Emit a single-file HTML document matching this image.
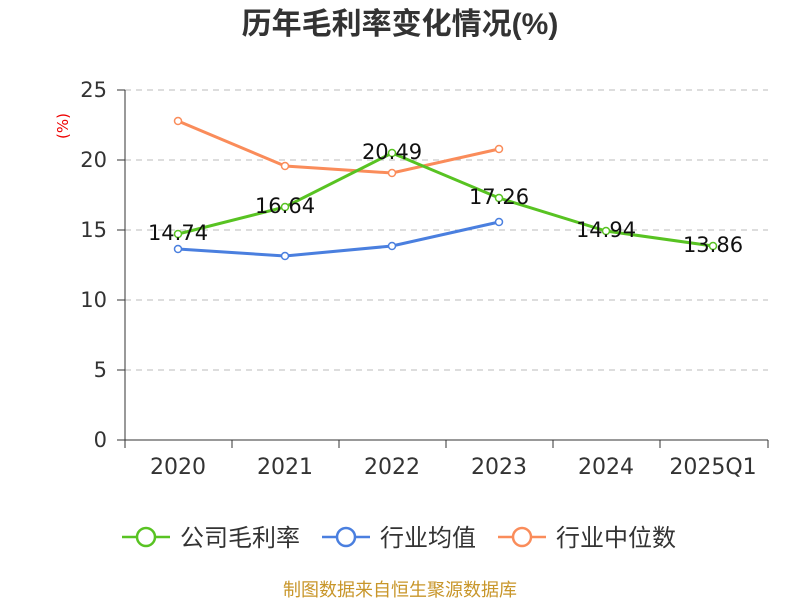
<!DOCTYPE html>
<html><head><meta charset="utf-8"><style>
body{margin:0;background:#fff;}
svg text{font-family:"DejaVu Sans","Noto Sans CJK SC",sans-serif;}
</style></head><body>
<svg width="800" height="600" xmlns="http://www.w3.org/2000/svg">
<rect width="800" height="600" fill="#fff"/>
<text x="400" y="34" text-anchor="middle" font-size="30" font-weight="bold" fill="#333" style="font-family:'Liberation Sans','Noto Sans CJK SC',sans-serif">历年毛利率变化情况(%)</text>
<text x="68" y="126" text-anchor="middle" font-size="15" fill="#e00" transform="rotate(-90 68 126)">(%)</text>
<g stroke="#bbb" stroke-dasharray="6,5" stroke-width="1">
<line x1="125" y1="90" x2="768" y2="90"/><line x1="125" y1="160" x2="768" y2="160"/>
<line x1="125" y1="230" x2="768" y2="230"/><line x1="125" y1="300" x2="768" y2="300"/>
<line x1="125" y1="370" x2="768" y2="370"/>
</g>
<g stroke="#333" stroke-width="1">
<line x1="125" y1="90" x2="125" y2="440"/>
<line x1="125" y1="440" x2="768" y2="440"/>
<line x1="117" y1="90" x2="125" y2="90"/><line x1="117" y1="160" x2="125" y2="160"/>
<line x1="117" y1="230" x2="125" y2="230"/><line x1="117" y1="300" x2="125" y2="300"/>
<line x1="117" y1="370" x2="125" y2="370"/><line x1="117" y1="440" x2="125" y2="440"/>
<line x1="125" y1="440" x2="125" y2="448"/><line x1="232" y1="440" x2="232" y2="448"/>
<line x1="339" y1="440" x2="339" y2="448"/><line x1="446" y1="440" x2="446" y2="448"/>
<line x1="553" y1="440" x2="553" y2="448"/><line x1="660" y1="440" x2="660" y2="448"/>
<line x1="768" y1="440" x2="768" y2="448"/>
</g>
<g font-size="21" fill="#333" text-anchor="end">
<text x="107" y="97">25</text><text x="107" y="167">20</text><text x="107" y="237">15</text>
<text x="107" y="307">10</text><text x="107" y="377">5</text><text x="107" y="447">0</text>
</g>
<g font-size="22" fill="#333" text-anchor="middle">
<text x="178" y="474">2020</text><text x="285" y="474">2021</text><text x="392" y="474">2022</text>
<text x="499" y="474">2023</text><text x="606" y="474">2024</text><text x="713" y="474">2025Q1</text>
</g>
<polyline points="178,121 285,166 392,173 499,149" fill="none" stroke="#fa8c5a" stroke-width="3"/>
<polyline points="178,249 285,256 392,246 499,222" fill="none" stroke="#4a7fdf" stroke-width="3"/>
<polyline points="178,234 285,207 392,153 499,198 606,231 713,246" fill="none" stroke="#58c322" stroke-width="3"/>
<g fill="#fff" stroke-width="1.5">
<g stroke="#fa8c5a"><circle cx="178" cy="121" r="3.5"/><circle cx="285" cy="166" r="3.5"/><circle cx="392" cy="173" r="3.5"/><circle cx="499" cy="149" r="3.5"/></g>
<g stroke="#4a7fdf"><circle cx="178" cy="249" r="3.5"/><circle cx="285" cy="256" r="3.5"/><circle cx="392" cy="246" r="3.5"/><circle cx="499" cy="222" r="3.5"/></g>
<g stroke="#58c322"><circle cx="178" cy="234" r="3.5"/><circle cx="285" cy="207" r="3.5"/><circle cx="392" cy="153" r="3.5"/><circle cx="499" cy="198" r="3.5"/><circle cx="606" cy="231" r="3.5"/><circle cx="713" cy="246" r="3.5"/></g>
</g>
<g font-size="21" fill="#111" text-anchor="middle">
<text x="178" y="240">14.74</text><text x="285" y="213">16.64</text><text x="392" y="159">20.49</text>
<text x="499" y="204">17.26</text><text x="606" y="237">14.94</text><text x="713" y="252">13.86</text>
</g>
<g stroke-width="2.5" fill="#fff">
<line x1="122" y1="537" x2="170" y2="537" stroke="#58c322"/><circle cx="146" cy="537" r="9" stroke="#58c322"/>
<line x1="322" y1="537" x2="370" y2="537" stroke="#4a7fdf"/><circle cx="346" cy="537" r="9" stroke="#4a7fdf"/>
<line x1="498" y1="537" x2="546" y2="537" stroke="#fa8c5a"/><circle cx="522" cy="537" r="9" stroke="#fa8c5a"/>
</g>
<g font-size="24" fill="#333">
<text x="180" y="546">公司毛利率</text><text x="380" y="546">行业均值</text><text x="556" y="546">行业中位数</text>
</g>
<text x="400" y="596" text-anchor="middle" font-size="18" fill="#c8962a">制图数据来自恒生聚源数据库</text>
</svg>
</body></html>
